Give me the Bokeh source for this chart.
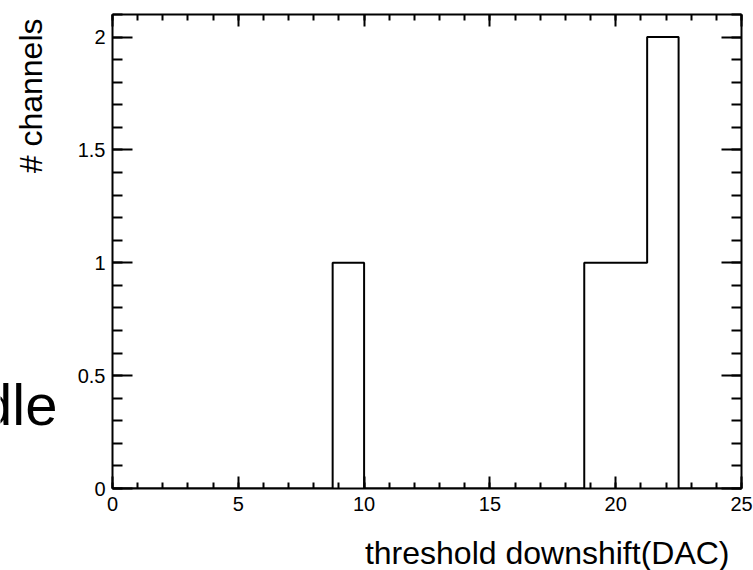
import math
from bokeh.plotting import figure
from bokeh.layouts import row, column
from bokeh.models import LinearAxis, FixedTicker, CustomJSTickFormatter
from bokeh.core.properties import value
from bokeh.embed import file_html
from bokeh.resources import INLINE

# ---- data ----
bin_width = 1.25
n_bins = 20
bin_edges = [i * bin_width for i in range(n_bins + 1)]
counts = [0, 0, 0, 0, 0, 0, 0, 1, 0, 0,
          0, 0, 0, 0, 0, 1, 1, 2, 0, 0]
x_major = [0, 5, 10, 15, 20, 25]
x_minor = list(range(0, 26))
y_major = [0, 0.5, 1, 1.5, 2]
y_minor = [round(i * 0.1, 1) for i in range(0, 22)]
x_title = "threshold downshift(DAC)"
y_title = "# channels"
side_text = "dle"

FONT = "Liberation Sans"
W = 753
W_LEFT = 66
H_STRIP = 40
H_TOP = 570 - H_STRIP
TOP, BOTTOM = 14, 42   # borders of the main frame (frame spans rows 14..488)


def bare(fig):
    fig.xgrid.visible = False
    fig.ygrid.visible = False
    fig.outline_line_color = None
    fig.background_fill_color = "white"
    fig.border_fill_color = "white"


# ---- left strip holding the y title and the stray text ----
# its frame is aligned with the main frame; y below is "570 - pixel row"
side = figure(width=W_LEFT, height=H_TOP, x_range=(0, W_LEFT),
              y_range=(570 - (H_TOP - BOTTOM), 570 - TOP),
              output_backend="svg", toolbar_location=None, title=None,
              min_border=0, min_border_left=0, min_border_right=0,
              min_border_top=0, min_border_bottom=0,
              x_axis_location=None, y_axis_location=None)
bare(side)
side.text(x=[30], y=[570 - 18], text=[y_title], angle=math.pi / 2,
          text_align="right", text_baseline="alphabetic",
          text_font=value(FONT), text_font_size="32px", text_color="black")
side.text(x=[57], y=[570 - 404], text=[side_text],
          text_align="right", text_baseline="alphabetic",
          text_font=value(FONT), text_font_size="58px", text_color="black")

# ---- main histogram ----
p = figure(width=W - W_LEFT, height=H_TOP, x_range=(0, 25), y_range=(0, 2.1),
           output_backend="svg", toolbar_location=None,
           min_border_left=112 - W_LEFT, min_border_right=12,
           min_border_top=TOP, min_border_bottom=BOTTOM,
           x_axis_location=None, y_axis_location=None)
bare(p)

ymt = FixedTicker(ticks=y_major, minor_ticks=y_minor)
xmt = FixedTicker(ticks=x_major, minor_ticks=x_minor)
yfmt = CustomJSTickFormatter(code="return tick.toFixed(1).replace(/\\.0$/, '');")


def style(ax, maj_in, min_in, labels):
    ax.axis_line_color = "black"
    ax.axis_line_width = 2
    ax.major_tick_line_color = "black"
    ax.minor_tick_line_color = "black"
    ax.major_tick_line_width = 2
    ax.minor_tick_line_width = 2
    ax.major_tick_in = maj_in
    ax.major_tick_out = 0
    ax.minor_tick_in = min_in
    ax.minor_tick_out = 0
    if labels:
        ax.major_label_text_font = FONT
        ax.major_label_text_font_size = "20px"
        ax.major_label_text_color = "black"
    else:
        ax.major_label_text_font_size = "0px"
        ax.major_label_standoff = 0


left = LinearAxis(ticker=ymt, formatter=yfmt)
style(left, 20, 10, True)
left.major_label_standoff = 7
p.add_layout(left, "left")

right = LinearAxis(ticker=ymt, formatter=yfmt)
style(right, 20, 10, False)
p.add_layout(right, "right")

bottom = LinearAxis(ticker=xmt)
style(bottom, 12, 6, True)
bottom.major_label_standoff = 8
p.add_layout(bottom, "below")

top = LinearAxis(ticker=xmt)
style(top, 12, 6, False)
p.add_layout(top, "above")

p.step(x=bin_edges, y=counts + [counts[-1]], mode="after",
       line_color="black", line_width=2)

# ---- bottom strip holding the x title; y below is "570 - pixel row" ----
strip = figure(width=W, height=H_STRIP, x_range=(0, W), y_range=(0, H_STRIP),
               output_backend="svg", toolbar_location=None, title=None,
               min_border=0, min_border_left=0, min_border_right=0,
               min_border_top=0, min_border_bottom=0,
               x_axis_location=None, y_axis_location=None)
bare(strip)
strip.text(x=[729], y=[570 - 552], text=[x_title],
           text_align="right", text_baseline="alphabetic",
           text_font=value(FONT), text_font_size="32px", text_color="black")

layout = column(row(side, p, spacing=0), strip, spacing=0)
open("out.html", "w").write(file_html(layout, INLINE))
